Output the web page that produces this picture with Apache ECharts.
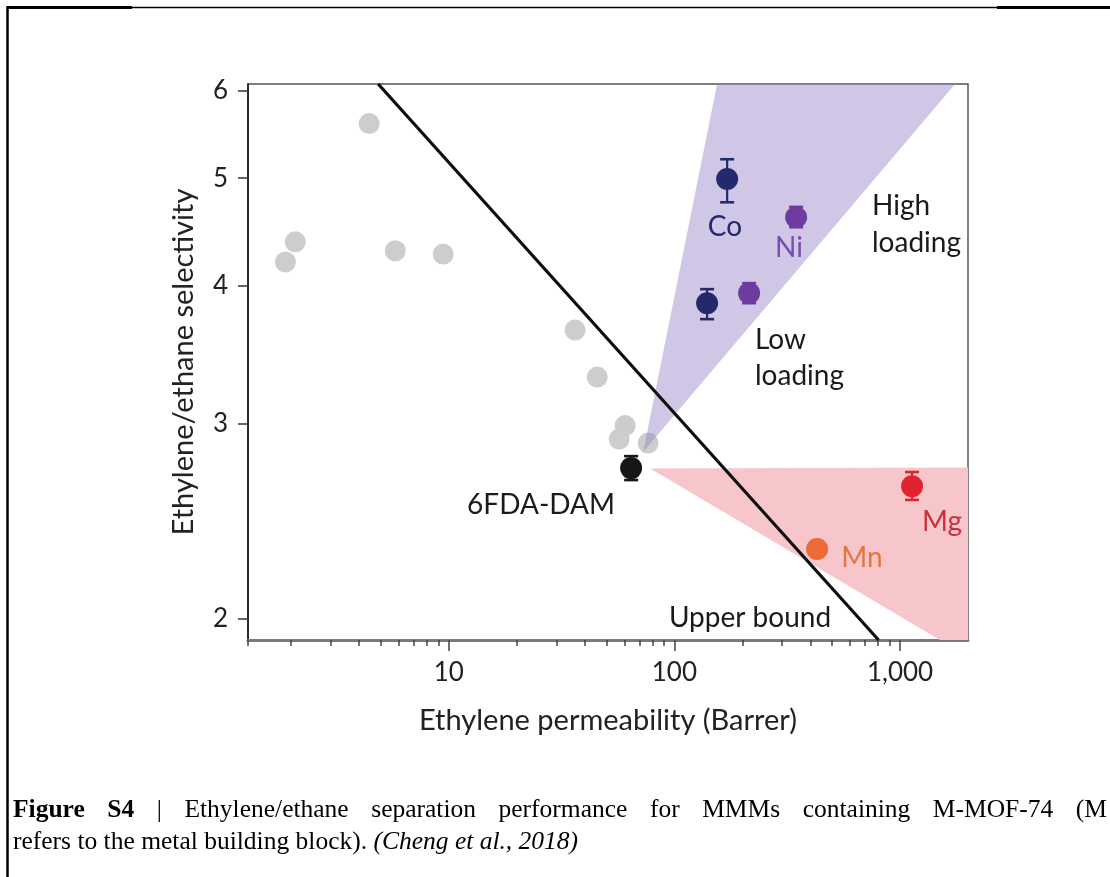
<!DOCTYPE html>
<html><head><meta charset="utf-8">
<script src="https://cdn.jsdelivr.net/npm/echarts@6/dist/echarts.min.js"></script>
<style>html,body{margin:0;padding:0;background:#fff}#c{width:1110px;height:877px}</style>
</head><body><div id="c"></div>
<script>
// ---------------- data ----------------
const xMin = 1.29, xMax = 2000;
const yMin = 1.915, yMax = 6.08;
const xMajorTicks = [10, 100, 1000];
const xMinorTicks = [1.29, 2, 3, 4, 5, 6, 7, 8, 9, 20, 30, 40, 50, 60, 70, 80, 90, 200, 300, 400, 500, 600, 700, 800, 900];
const yTicks = [2, 3, 4, 5, 6];

// grey reference polymer membranes
const polymerX = [1.89, 2.09, 4.44, 5.80, 9.45, 36.3, 45.5, 60.5, 56.9, 76.5];
const polymerY = [4.20, 4.38, 5.60, 4.30, 4.27, 3.646, 3.307, 2.99, 2.907, 2.883];

// MMM / neat polymer points
const mofNames   = ['6FDA-DAM', 'Co', 'Co', 'Ni', 'Ni', 'Mg', 'Mn'];
const mofX       = [64.3, 171.3, 139.6, 346.2, 214.3, 1130, 428.9];
const mofY       = [2.737, 4.99, 3.856, 4.61, 3.937, 2.636, 2.314];
const mofErrLow  = [2.670, 4.755, 3.73, 4.515, 3.856, 2.562, null];
const mofErrHigh = [2.806, 5.20, 3.97, 4.71, 4.02, 2.715, null];

// upper bound line
const boundX = [4.87, 803];
const boundY = [6.08, 1.915];

// shaded regions
const purpleX = [72.7, 154.6, 1753];
const purpleY = [2.83, 6.08, 6.08];
const pinkX = [78.1, 2000, 2000, 1503];
const pinkY = [2.735, 2.74, 1.915, 1.915];

// caption
const captionLine1 = [['Figure', 'b'], ['S4', 'b'], ['|', 'r'], ['Ethylene/ethane', 'r'], ['separation', 'r'], ['performance', 'r'],
  ['for', 'r'], ['MMMs', 'r'], ['containing', 'r'], ['M-MOF-74', 'r'], ['(M', 'r']];
const captionLine2 = 'refers to the metal building block). {i|(Cheng et al., 2018)}';

// ---------------- styles ----------------
const FONT = 'Lato';
const colorOf = { '6FDA-DAM': '#161616', 'Co': '#232a6c', 'Ni': '#6e3c9e', 'Mg': '#e2222e', 'Mn': '#ec6a36' };

const chart = echarts.init(document.getElementById('c'), null, { renderer: 'canvas' });

function polygonSeries(xs, ys, fill, z) {
  return {
    type: 'custom', z: z, silent: true, xAxisIndex: 0, yAxisIndex: 0,
    data: [[xs[0], ys[0]]],
    renderItem: function (params, api) {
      return {
        type: 'polygon',
        shape: { points: xs.map((x, i) => api.coord([x, ys[i]])) },
        style: { fill: fill }
      };
    }
  };
}

const errData = [];
mofNames.forEach((n, i) => { if (mofErrLow[i] != null) errData.push([mofX[i], mofErrLow[i], mofErrHigh[i], i]); });

function label(text, x, y, fill, align) {
  return { type: 'text', z: 100, x: x, y: y, style: { text: text, fill: fill, font: '28px Lato', align: align || 'center', verticalAlign: 'middle' } };
}

// justified first caption line
const capSize = 25.5, capLeft = 13, capRight = 1107;
const mctx = document.createElement('canvas').getContext('2d');
const capFont = w => (w === 'b' ? 'bold ' : '') + capSize + 'px "Liberation Serif"';
const widths = captionLine1.map(([t, w]) => { mctx.font = capFont(w); return mctx.measureText(t).width; });
const gap = (capRight - capLeft - widths.reduce((a, b) => a + b, 0)) / (captionLine1.length - 1);
const captionGraphics = [];
let cx = capLeft;
captionLine1.forEach(([t, w], i) => {
  captionGraphics.push({ type: 'text', z: 100, x: cx, y: 810, style: { text: t, fill: '#000', font: capFont(w), align: 'left', verticalAlign: 'middle' } });
  cx += widths[i] + gap;
});
captionGraphics.push({ type: 'text', z: 100, x: capLeft, y: 842, style: {
  text: captionLine2, fontFamily: 'Liberation Serif', fontSize: capSize, fill: '#000', verticalAlign: 'middle',
  rich: { i: { fontFamily: 'Liberation Serif', fontSize: capSize, fontStyle: 'italic', fill: '#000' } } } });

const option = {
  backgroundColor: '#fff',
  animation: false,
  grid: { left: 248, right: 142, top: 84, bottom: 237, show: true, borderColor: '#555', borderWidth: 1.5, backgroundColor: 'transparent', outerBoundsMode: 'none' },
  xAxis: [{
    type: 'log', min: xMin, max: xMax, position: 'bottom',
    name: 'Ethylene permeability (Barrer)', nameLocation: 'middle', nameGap: 66,
    nameTextStyle: { fontFamily: FONT, fontSize: 29, color: '#222' },
    axisLine: { show: true, lineStyle: { color: '#7a7a7a', width: 3 } },
    axisTick: { show: true, length: 11, lineStyle: { color: '#444', width: 1.5 }, customValues: xMajorTicks },
    axisLabel: { fontFamily: FONT, fontSize: 26, color: '#222', margin: 20, customValues: xMajorTicks,
      formatter: v => v >= 1000 ? v.toLocaleString('en-US') : String(v) },
    splitLine: { show: false }
  }, {
    type: 'log', min: xMin, max: xMax, position: 'bottom',
    axisLine: { show: false },
    axisTick: { show: true, length: 6, lineStyle: { color: '#444', width: 1.5 }, customValues: xMinorTicks },
    axisLabel: { show: false },
    splitLine: { show: false }
  }],
  yAxis: {
    type: 'log', min: yMin, max: yMax,
    name: 'Ethylene/ethane selectivity', nameLocation: 'middle', nameGap: 50,
    nameTextStyle: { fontFamily: FONT, fontSize: 29, color: '#222' },
    axisLine: { show: true, lineStyle: { color: '#111', width: 1.5 } },
    axisTick: { show: true, length: 10, lineStyle: { color: '#333', width: 1.5 }, customValues: yTicks },
    axisLabel: { fontFamily: FONT, fontSize: 26, color: '#222', margin: 20, customValues: yTicks },
    splitLine: { show: false }
  },
  series: [
    polygonSeries(pinkX, pinkY, '#f7c6cb', 1),
    {
      type: 'scatter', z: 2, symbolSize: 21, silent: true,
      itemStyle: { color: '#cdcdcd', opacity: 1 },
      data: polymerX.map((x, i) => [x, polymerY[i]])
    },
    polygonSeries(purpleX, purpleY, 'rgba(150,130,200,0.45)', 3),
    {
      type: 'line', z: 4, silent: true, symbol: 'none',
      lineStyle: { color: '#0d0d0d', width: 3.2 },
      data: boundX.map((x, i) => [x, boundY[i]])
    },
    {
      type: 'custom', z: 5, silent: true,
      encode: { x: 0, y: [1, 2] },
      data: errData,
      renderItem: function (params, api) {
        const x = api.value(0), lo = api.value(1), hi = api.value(2), idx = api.value(3);
        const c = colorOf[mofNames[idx]];
        const a = api.coord([x, lo]), b = api.coord([x, hi]);
        const w = 7;
        return {
          type: 'group', children: [
            { type: 'line', shape: { x1: a[0], y1: a[1], x2: b[0], y2: b[1] }, style: { stroke: c, lineWidth: 2.2 } },
            { type: 'line', shape: { x1: a[0] - w, y1: a[1], x2: a[0] + w, y2: a[1] }, style: { stroke: c, lineWidth: 2.6 } },
            { type: 'line', shape: { x1: b[0] - w, y1: b[1], x2: b[0] + w, y2: b[1] }, style: { stroke: c, lineWidth: 2.6 } }
          ]
        };
      }
    },
    {
      type: 'scatter', z: 6, symbolSize: 22, silent: true,
      data: mofNames.map((n, i) => ({ value: [mofX[i], mofY[i]], itemStyle: { color: colorOf[n], opacity: 1 } }))
    }
  ],
  graphic: [
    label('Co', 725, 227, '#232a6c'),
    label('Ni', 789, 248, '#7b4cab'),
    label('High', 872, 206, '#1a1a1a', 'left'),
    label('loading', 872, 243, '#1a1a1a', 'left'),
    label('Low', 755, 340, '#1a1a1a', 'left'),
    label('loading', 755, 376, '#1a1a1a', 'left'),
    label('6FDA-DAM', 615, 505, '#1a1a1a', 'right'),
    label('Mg', 942, 522, '#c8303b'),
    label('Mn', 862, 558, '#e6743f'),
    label('Upper bound', 750, 618, '#1a1a1a'),
    // outer frame
    { type: 'line', z: 100, shape: { x1: 7.5, y1: 6, x2: 7.5, y2: 877 }, style: { stroke: '#000', lineWidth: 2.5 } },
    { type: 'line', z: 100, shape: { x1: 7, y1: 7.5, x2: 1110, y2: 7.5 }, style: { stroke: '#000', lineWidth: 1.5 } },
    { type: 'line', z: 100, shape: { x1: 7, y1: 7.5, x2: 132, y2: 7.5 }, style: { stroke: '#000', lineWidth: 3 } },
    { type: 'line', z: 100, shape: { x1: 997, y1: 7.5, x2: 1110, y2: 7.5 }, style: { stroke: '#000', lineWidth: 3 } }
  ].concat(captionGraphics)
};
chart.setOption(option);
</script></body></html>
